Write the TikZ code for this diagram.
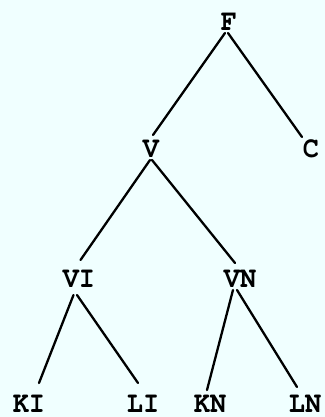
\documentclass[tikz,border=0pt]{standalone}
\usepackage{fontspec}
\newfontfamily\lblfont[FakeStretch=0.9]{TeX Gyre Cursor}
\definecolor{bgc}{RGB}{240,255,255}
\begin{document}
\begin{tikzpicture}[x=1bp,y=-1bp,
  lbl/.style={anchor=base,inner sep=0pt,font=\lblfont\bfseries\fontsize{30}{32}\selectfont},
  edge/.style={line width=2.3bp,line cap=round}]
\fill[bgc] (0,0) rectangle (325,417);
\useasboundingbox (0,0) rectangle (325,417);
\node[lbl] (F) at (229,30) {F};
\node[lbl] (V) at (151,157) {V};
\node[lbl] (C) at (311,157) {C};
\node[lbl] (VI) at (79,287) {VI};
\node[lbl] (VN) at (240,287) {VN};
\node[lbl] (KI) at (29,412) {KI};
\node[lbl] (LI) at (143,412) {LI};
\node[lbl] (KN) at (210,412) {KN};
\node[lbl] (LN) at (305,412) {LN};
\draw[edge] ([shift={(-4,3)}]F.base) -- ([shift={(2,-22)}]V.base);
\draw[edge] ([shift={(-1,3)}]F.base) -- ([shift={(-9,-20)}]C.base);
\draw[edge] ([shift={(-1,3)}]V.base) -- ([shift={(1.5,-27)}]VI.base);
\draw[edge] ([shift={(1,3)}]V.base) -- ([shift={(-5,-24)}]VN.base);
\draw[edge] ([shift={(-5.5,8)}]VI.base) -- ([shift={(10,-29)}]KI.base);
\draw[edge] ([shift={(-2,8)}]VI.base) -- ([shift={(-5,-29)}]LI.base);
\draw[edge] ([shift={(-7,3)}]VN.base) -- ([shift={(-3,-22)}]KN.base);
\draw[edge] ([shift={(-3,3)}]VN.base) -- ([shift={(-8,-25)}]LN.base);
\end{tikzpicture}
\end{document}
